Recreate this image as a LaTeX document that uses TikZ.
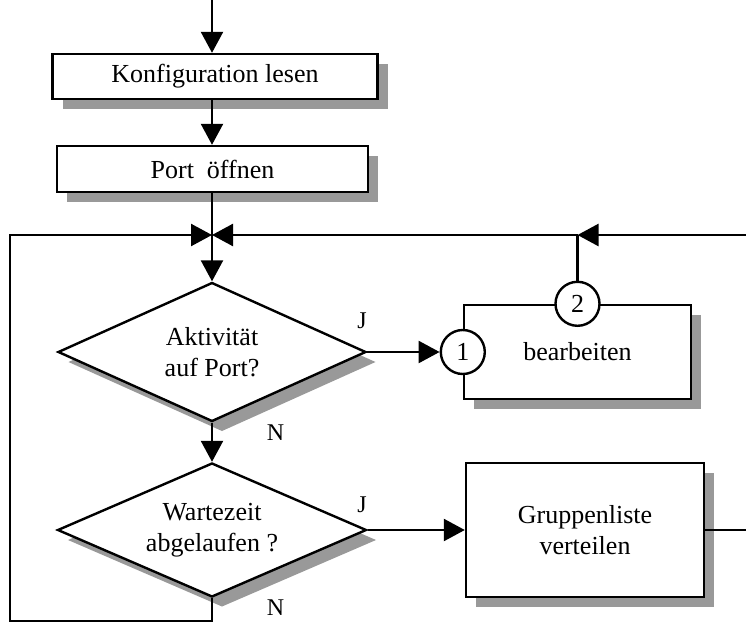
\documentclass[tikz,border=0pt]{standalone}
\usepackage{fontspec}
\setmainfont{Liberation Serif}
\usetikzlibrary{arrows.meta,shapes.geometric,shadows}

\begin{document}
\begin{tikzpicture}[x=1pt,y=-1pt,>={Triangle[length=21pt,width=22pt]},line width=2.4pt,
  font={\fontsize{26}{31}\selectfont},
  shd/.style={drop shadow={shadow xshift=10pt,shadow yshift=-10pt,fill=black!40,opacity=1}},
  box/.style={draw,fill=white,shd,inner sep=0pt,align=center},
  ask/.style={diamond,aspect=2.2,draw,fill=white,shd,inner sep=0pt,align=center},
  konn/.style={circle,draw,fill=white,minimum size=44pt,inner sep=0pt},
  lab/.style={inner sep=0pt,font={\fontsize{24}{28}\selectfont}}]
\useasboundingbox (0,0) rectangle (746,623);
% main column
\coordinate (start) at (212,0);
\node[box,minimum width=325pt,minimum height=45pt] (konfig) at (215,76.5) {Konfiguration lesen};
\node[box,minimum width=311pt,minimum height=46pt] (port) at (212.5,169) {Port~~öffnen};
\coordinate (jn) at (212,235);
\node[ask,minimum width=308pt,minimum height=139pt] (akt) at (212,352) {Aktivität\\auf Port?};
\node[ask,minimum width=309pt,minimum height=134pt] (wart) at (212,530) {Wartezeit\\abgelaufen ?};
% right column
\node[box,minimum width=227pt,minimum height=94pt] (bearb) at (577.5,352) {bearbeiten};
\node[konn] (k1) at (bearb.west) {1};
\node[konn] (k2) at (bearb.north) {2};
\node[box,minimum width=238pt,minimum height=134pt] (grupp) at (585,530) {Gruppenliste\\verteilen};
% loop corners and open ends
\coordinate (lu) at (10,621);
\coordinate (lo) at (10,235);
\coordinate (ro) at (746,235);
\coordinate (ru) at (746,530);
% connectors
\draw[->] (start) -- (konfig.north -| start);
\draw[->] (konfig.south -| start) -- (port.north -| start);
\draw[->] (port.south -| jn) -- (akt.north);
\draw[->] (akt.east) -- (k1);
\draw[->] (akt.south) -- (wart.north);
\draw[->] (wart.east) -- (grupp.west);
\draw (grupp.east) -- (ru);
\draw (k2.north) -- (k2 |- jn);
\draw[->] (ro) -- (k2 |- jn);
\draw[->] (k2 |- jn) -- (jn);
\draw[->] (wart.south) -- (wart.south |- lu) -- (lu) -- (lo) -- (jn);
% J / N labels
\node[lab] (ja) at (362,321) {J};
\node[lab] (na) at (275.5,433) {N};
\node[lab] (jb) at (362,505) {J};
\node[lab] (nb) at (275.5,608) {N};
\end{tikzpicture}
\end{document}
